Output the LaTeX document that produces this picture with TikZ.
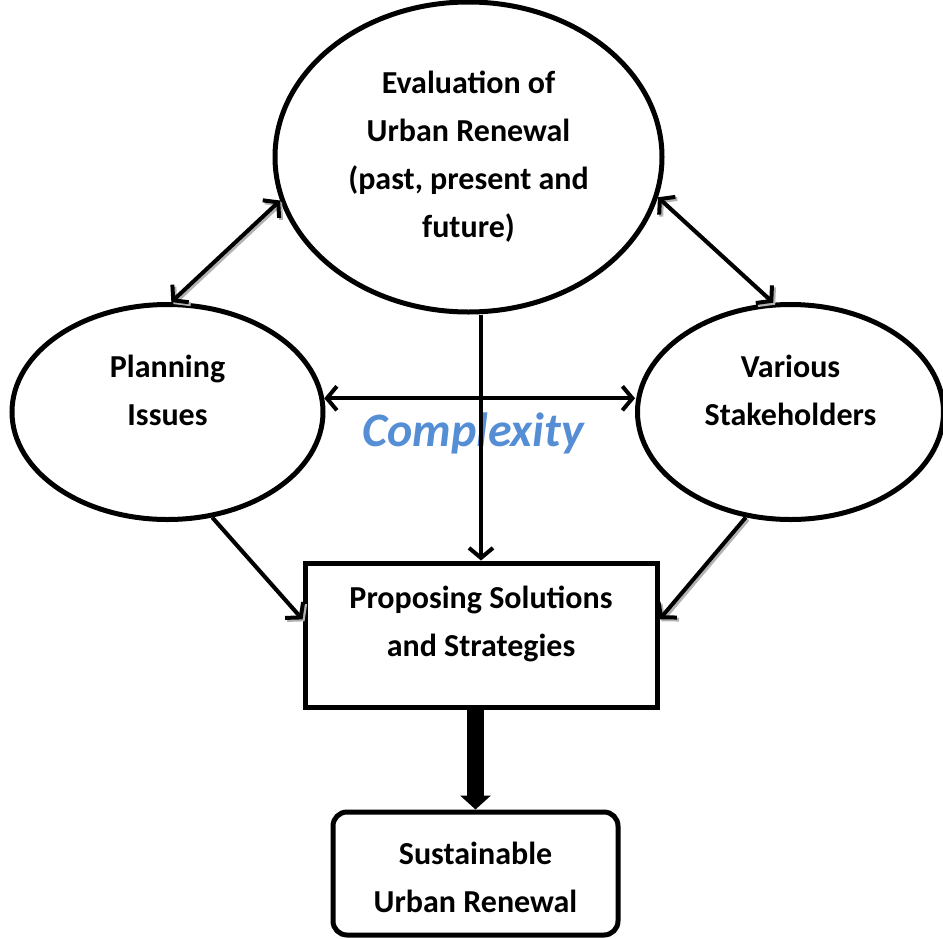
\documentclass[tikz,border=0pt]{standalone}
\usepackage{fontspec}
\setmainfont{Carlito}
\usetikzlibrary{shapes.geometric,arrows.meta}

\begin{document}
\begin{tikzpicture}[x=1pt,y=-1pt,
    bubble/.style={ellipse, draw, line width=5pt, inner sep=0pt},
    boxed/.style={draw, line width=5pt, inner sep=0pt},
    txt/.style={align=center, font=\fontsize{32}{48}\selectfont\bfseries},
    barb/.tip={Straight Barb[length=10pt,width=24pt,line width=4pt]},
    conn/.style={line width=4pt},
    shadowed/.style={preaction={draw=gray!60, line width=4pt, transform canvas={shift={(2pt,-2pt)}}}}]

    % Define colors
    \definecolor{cxblue}{RGB}{85,142,213}

    \useasboundingbox (0,0) rectangle (943,938);

    % ellipses
    \node[bubble, minimum width=387pt, minimum height=310pt, txt] (eval) at (468.5,157)
        {Evaluation of\\Urban Renewal\\(past, present and\\future)};
    \node[bubble, minimum width=311pt, minimum height=215pt,
        label={[txt, yshift=22pt]center:{Planning\\Issues}}] (plan) at (167.5,412) {};
    \node[bubble, minimum width=306pt, minimum height=215pt,
        label={[txt, yshift=22pt]center:{Various\\Stakeholders}}] (stake) at (790.5,412) {};

    % boxes
    \node[boxed, minimum width=352pt, minimum height=144pt,
        label={[txt, yshift=11pt]center:{Proposing Solutions\\and Strategies}}] (prop) at (481,635) {};
    \node[boxed, rounded corners=14pt, minimum width=285pt, minimum height=123pt,
        label={[txt, yshift=-4pt]center:{Sustainable\\Urban Renewal}}] (goal) at (475.5,873.5) {};

    \node[text=cxblue, font=\fontsize{48}{50}\selectfont\bfseries\itshape] (cx) at (473,433) {Complexity};

    % arrows
    \draw[conn, shadowed, barb-barb] (eval.193) -- (plan.88);
    \draw[conn, shadowed, barb-barb] (eval.348) -- (stake.99);
    \draw[conn, shadowed, -barb] (plan.293) -- (prop.175);
    \draw[conn, shadowed, -barb] (stake.247) -- (prop.5);

    \draw[conn, barb-barb] (plan.5.6) -- (plan.5.6 -| stake.west);
    \draw[conn, -barb] (eval.south -| prop.north) -- (prop.north);

    \draw[line width=17pt, -{Triangle[width=30pt,length=14pt]}] (goal.north |- prop.south) -- (goal.north);

\end{tikzpicture}
\end{document}
